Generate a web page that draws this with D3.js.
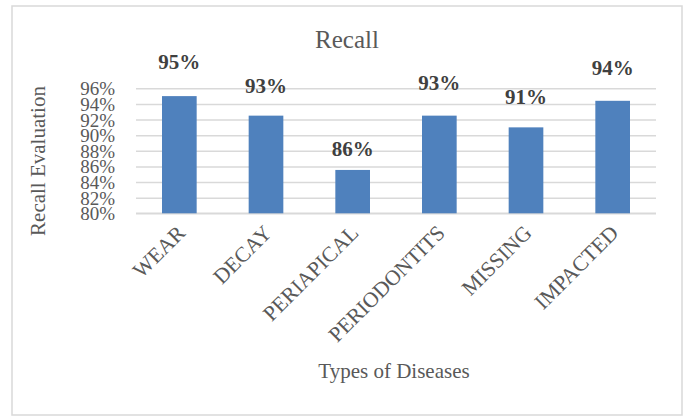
<!DOCTYPE html>
<html>
<head>
<meta charset="utf-8">
<script src="https://cdn.jsdelivr.net/npm/d3@7"></script>
<style>
  html, body { margin: 0; padding: 0; background: #fff; }
  svg { display: block; }
  text { font-family: "Liberation Serif", "Times New Roman", serif; }
</style>
</head>
<body>
<svg id="chart" width="688" height="418"></svg>
<script>
// Recall per disease type
const categories = ["WEAR", "DECAY", "PERIAPICAL", "PERIODONTITS", "MISSING", "IMPACTED"];
const recall = [0.95, 0.925, 0.8555, 0.925, 0.91, 0.944];
const yTicks = [0.80, 0.82, 0.84, 0.86, 0.88, 0.90, 0.92, 0.94, 0.96];
// extra lift (px) of each value label above its bar
const labelLift = [27, 23, 14, 26, 23, 26];

const svg = d3.select("#chart");
const plot = { left: 136, right: 656, top: 88.3, bottom: 213.3 };

// chart frame
svg.append("rect")
  .attr("x", 12).attr("y", 6)
  .attr("width", 670).attr("height", 409)
  .attr("fill", "#fff")
  .attr("stroke", "#d9d9d9").attr("stroke-width", 1.5);

const x = d3.scaleBand()
  .domain(categories)
  .range([plot.left, plot.right])
  .paddingInner(0.6)
  .paddingOuter(0.3);

const y = d3.scaleLinear()
  .domain([0.80, 0.96])
  .range([plot.bottom, plot.top]);

// gridlines + y tick labels
const yAxis = d3.axisLeft(y)
  .tickValues(yTicks)
  .tickFormat(d3.format(".0%"))
  .tickSize(-(plot.right - plot.left))
  .tickPadding(21);

const gy = svg.append("g")
  .attr("transform", `translate(${plot.left},0)`)
  .call(yAxis);
gy.select(".domain").remove();
gy.selectAll(".tick line").attr("stroke", "#d9d9d9").attr("stroke-width", 1.5);
gy.selectAll(".tick text")
  .attr("fill", "#595959")
  .style("font-size", "19px")
  .attr("dy", "0.34em");

// category axis
const xAxis = d3.axisBottom(x).tickSize(0).tickPadding(0);
const gx = svg.append("g")
  .attr("transform", `translate(0,${plot.bottom})`)
  .call(xAxis);
gx.select(".domain").attr("stroke", "#d9d9d9").attr("stroke-width", 1.5)
  .attr("d", `M${plot.left},0H${plot.right}`);
gx.selectAll(".tick text")
  .attr("fill", "#595959")
  .style("font-size", "21.5px")
  .attr("text-anchor", "end")
  .attr("dy", 0)
  .attr("transform", "translate(7,21) rotate(-45)");

// bars
svg.append("g")
  .selectAll("rect")
  .data(categories)
  .join("rect")
  .attr("x", d => x(d))
  .attr("width", x.bandwidth())
  .attr("y", (d, i) => y(recall[i]))
  .attr("height", (d, i) => y(0.80) - y(recall[i]))
  .attr("fill", "#4f81bd");

// value labels
svg.append("g")
  .selectAll("text")
  .data(categories)
  .join("text")
  .attr("x", d => x(d) + x.bandwidth() / 2)
  .attr("y", (d, i) => y(recall[i]) - labelLift[i])
  .attr("text-anchor", "middle")
  .attr("fill", "#404040")
  .style("font-size", "21px")
  .style("font-weight", "bold")
  .text((d, i) => Math.round(recall[i] * 100) + "%");

// title
svg.append("text")
  .attr("x", 347).attr("y", 48)
  .attr("text-anchor", "middle")
  .attr("fill", "#595959")
  .style("font-size", "25px")
  .text("Recall");

// axis titles
svg.append("text")
  .attr("transform", `translate(45,${(85 + 237) / 2}) rotate(-90)`)
  .attr("text-anchor", "middle")
  .attr("fill", "#595959")
  .style("font-size", "21px")
  .text("Recall Evaluation");

svg.append("text")
  .attr("x", 394).attr("y", 378)
  .attr("text-anchor", "middle")
  .attr("fill", "#595959")
  .style("font-size", "21px")
  .text("Types of Diseases");
</script>
</body>
</html>
